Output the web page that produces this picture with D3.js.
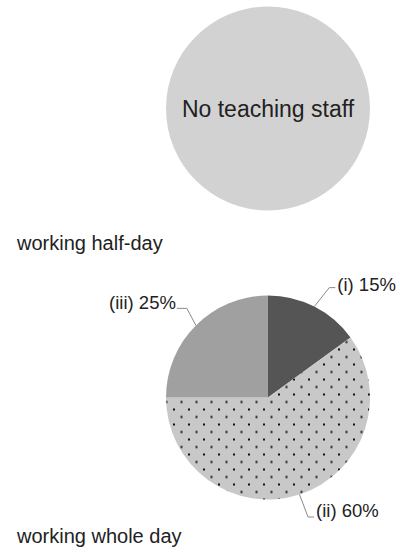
<!DOCTYPE html>
<html>
<head>
<meta charset="utf-8">
<script src="https://cdn.jsdelivr.net/npm/d3@7"></script>
<style>
html,body{margin:0;padding:0;background:#fff;}
svg{display:block;font-family:"Liberation Sans",Arial,sans-serif;}
</style>
</head>
<body>
<script>
// Data
const topCategories = ["No teaching staff"];
const topValues = [100];
const topTitle = "working half-day";

const bottomCategories = ["(i)", "(ii)", "(iii)"];
const bottomValues = [15, 60, 25];
const bottomTitle = "working whole day";

const W = 400, H = 554;
const svg = d3.select("body").append("svg").attr("width", W).attr("height", H);

const defs = svg.append("defs");
const pat = defs.append("pattern").attr("id","dots").attr("patternUnits","userSpaceOnUse")
  .attr("width",15).attr("height",15);
pat.append("rect").attr("width",15).attr("height",15).attr("fill","#c8c8c8");
pat.append("rect").attr("x",10).attr("y",11).attr("width",2).attr("height",2).attr("fill","#111");
pat.append("rect").attr("x",2.5).attr("y",3.5).attr("width",2).attr("height",2).attr("fill","#111");

const R = 102;
const pie = d3.pie().sort(null).value(d => d);
const arc = d3.arc().innerRadius(0).outerRadius(R);
const edge = d3.arc().innerRadius(R).outerRadius(R);

// Top pie
const gTop = svg.append("g").attr("transform","translate(268,108.5)");
gTop.selectAll("path").data(pie(topValues)).join("path")
  .attr("d", arc).attr("fill","#d2d2d2");
gTop.append("text").attr("text-anchor","middle").attr("dy","0.35em")
  .attr("font-size",23).attr("fill","#222").text(topCategories[0]);

svg.append("text").attr("x",17).attr("y",250).attr("font-size",20).attr("fill","#222").text(topTitle);

// Bottom pie
const fills = ["#555555","url(#dots)","#a0a0a0"];
const cx = 268, cy = 397.5;
const gBot = svg.append("g").attr("transform",`translate(${cx},${cy})`);
const arcs = pie(bottomValues);
gBot.selectAll("path").data(arcs).join("path")
  .attr("d", arc).attr("fill",(d,i)=>fills[i]);

// leader styling offsets: [elbow dx, elbow dy, horizontal length]
const leader = [[15,-19,6],[8.5,22.5,6],[-9,-17,-10]];
arcs.forEach((d,i)=>{
  const [ex,ey] = edge.centroid(d);
  const [dx,dy,hl] = leader[i];
  const p1=[ex+dx, ey+dy], p2=[ex+dx+hl, ey+dy];
  gBot.append("polyline").attr("points",[[ex,ey],p1,p2].map(p=>p.join(",")).join(" "))
    .attr("fill","none").attr("stroke","#8a8a8a").attr("stroke-width",1);
  const right = hl>0;
  gBot.append("text").attr("x", p2[0] + (right?2:-1)).attr("y", p2[1]+ (i===0?3:i===1?0:1))
    .attr("text-anchor", right?"start":"end")
    .attr("font-size",18.5).attr("fill","#222")
    .text(`${bottomCategories[i]} ${bottomValues[i]}%`);
});

svg.append("text").attr("x",17).attr("y",543).attr("font-size",20).attr("fill","#222").text(bottomTitle);
</script>
</body>
</html>
